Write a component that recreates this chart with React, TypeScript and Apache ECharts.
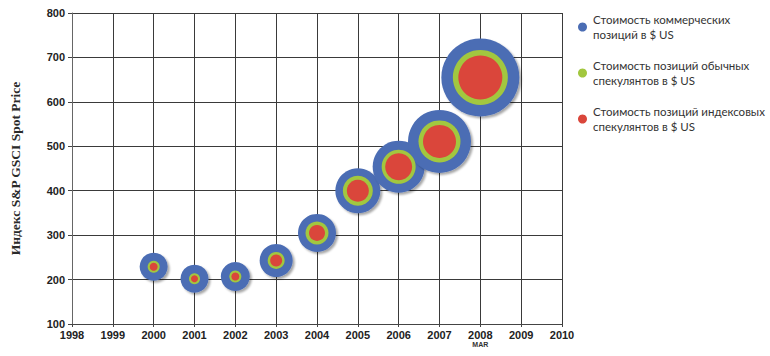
import React, { useEffect, useRef } from "react";
import * as echarts from "echarts";

const years = [2000, 2001, 2002, 2003, 2004, 2005, 2006, 2007, 2008];
const price = [229, 202, 207, 243, 305, 400, 454, 511, 655];
// relative bubble sizes (diameters)
const commercial = [28, 28, 29, 33, 38, 45, 52, 63, 78];
const ordinary = [12, 11, 12, 17, 23, 30, 34, 42, 55];
const indexSpec = [8, 7, 8, 12, 16, 22, 27, 33, 44];

const seriesNames = [
  "Стоимость коммерческих\nпозиций в $ US",
  "Стоимость позиций обычных\nспекулянтов в $ US",
  "Стоимость позиций индексовых\nспекулянтов в $ US",
];
const colors = ["#4b6db4", "#a2c73f", "#da463b"];
const yAxisTitle = "Индекс S&P GSCI Spot Price";

export default function App() {
  const ref = useRef<HTMLDivElement>(null);
  useEffect(() => {
    if (!ref.current) return;
    const chart = echarts.init(ref.current, undefined, { renderer: "svg" });
    const sizes = [commercial, ordinary, indexSpec];
    const series = sizes.map((arr, si) => ({
      type: "scatter",
      name: seriesNames[si],
      data: years.map((y, i) => [y, price[i], arr[i]]),
      symbol: "circle",
      symbolSize: (v: number[]) => v[2],
      itemStyle:
        si === 0
          ? {
              color: colors[si],
              opacity: 1,
              shadowColor: "rgba(0,0,0,0.35)",
              shadowOffsetX: 2,
              shadowOffsetY: 2,
              shadowBlur: 2,
            }
          : { color: colors[si], opacity: 1 },
      emphasis: { disabled: true },
      z: 2 + si,
    }));
    chart.setOption({
      animation: false,
      grid: { left: 65, right: 208, top: 13, bottom: 32, containLabel: false },
      legend: {
        orient: "vertical",
        left: 573,
        top: 7,
        itemWidth: 9,
        itemHeight: 9,
        itemGap: 16,
        icon: "circle",
        data: seriesNames,
        textStyle: {
          fontFamily: "Lato",
          fontSize: 11.5,
          lineHeight: 15,
          color: "#333",
          padding: [0, 0, 0, 1],
        },
      },
      xAxis: {
        type: "value",
        min: 1998,
        max: 2010,
        interval: 1,
        axisLine: { show: true, lineStyle: { color: "#444", width: 1 } },
        axisTick: { show: true, length: 3, lineStyle: { color: "#444" } },
        splitLine: { show: true, lineStyle: { color: "#3a3a3a", width: 1 } },
        axisLabel: {
          margin: 5,
          fontFamily: "Liberation Sans",
          fontWeight: "bold",
          fontSize: 11,
          color: "#222",
          formatter: (v: number) => (v === 2008 ? "2008\n{m|MAR}" : String(v)),
          rich: {
            m: {
              fontFamily: "Liberation Sans",
              fontWeight: "bold",
              fontSize: 7,
              color: "#333",
              lineHeight: 9,
            },
          },
        },
      },
      yAxis: {
        type: "value",
        min: 100,
        max: 800,
        interval: 100,
        name: yAxisTitle,
        nameLocation: "middle",
        nameRotate: 90,
        nameGap: 50,
        nameTextStyle: {
          fontFamily: "Liberation Serif",
          fontSize: 13.5,
          fontWeight: "bold",
          color: "#2a2a2a",
        },
        axisLine: { show: true, lineStyle: { color: "#666", width: 1 } },
        axisTick: { show: true, length: 4, lineStyle: { color: "#444" } },
        splitLine: { show: true, lineStyle: { color: "#3a3a3a", width: 1 } },
        axisLabel: {
          margin: 7,
          fontFamily: "Liberation Sans",
          fontWeight: "bold",
          fontSize: 11,
          color: "#222",
        },
      },
      series,
    });
    return () => chart.dispose();
  }, []);
  return (
    <div
      ref={ref}
      style={{ position: "absolute", left: 0, top: 0, width: 770, height: 356 }}
    />
  );
}
